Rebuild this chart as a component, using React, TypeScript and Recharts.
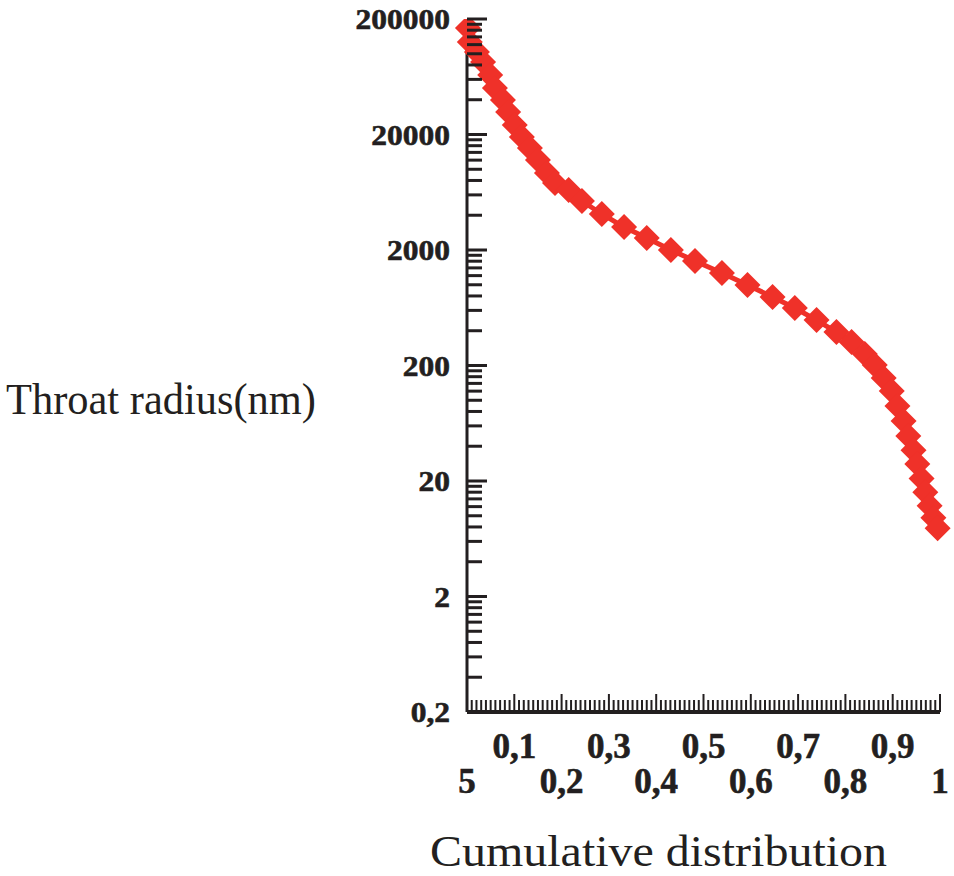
import React from "react"
import { LineChart, Line, XAxis, YAxis } from "recharts"

// cumulative distribution (x) vs throat radius in nm (y, log)
const cumulative = [
  0.002, 0.006, 0.021, 0.034, 0.049, 0.059, 0.076, 0.087, 0.101, 0.116,
  0.133, 0.15, 0.169, 0.186, 0.215, 0.243, 0.285, 0.332, 0.38, 0.431,
  0.482, 0.539, 0.593, 0.646, 0.693, 0.739, 0.781, 0.813, 0.841, 0.862,
  0.881, 0.898, 0.91, 0.923, 0.933, 0.944, 0.952, 0.961, 0.969, 0.978,
  0.986, 0.995,
]
const radius = [
  167000, 126500, 103600, 84900, 65500, 50600, 39800, 31300, 24200, 19000,
  15300, 12000, 9290, 7600, 6610, 5310, 4100, 3160, 2540, 2000,
  1607, 1264, 995, 784, 629, 495, 390, 319, 252, 202,
  156, 120, 89, 66, 49, 37, 28, 21, 16, 12.2,
  9.6, 7.8,
]

const yMajorTicks = [0.2, 2, 20, 200, 2000, 20000, 200000]
const yMajorLabels = ["0,2", "2", "20", "200", "2000", "20000", "200000"]
const xMajorTicks = [0, 0.1, 0.2, 0.3, 0.4, 0.5, 0.6, 0.7, 0.8, 0.9, 1]
const xMajorLabels = ["5", "0,1", "0,2", "0,3", "0,4", "0,5", "0,6", "0,7", "0,8", "0,9", "1"]

const data = cumulative.map((x, i) => ({ x, r: radius[i] }))

// minor ticks: 1..9 per decade on y, every 0.01 on x
const yTicks: number[] = []
yMajorTicks.slice(0, -1).forEach((d) => {
  for (let k = 1; k < 10; k++) yTicks.push(d * k)
})
yTicks.push(200000)
const xTicks = Array.from({ length: 101 }, (_, i) => i / 100)

const INK = "#231f20"
const RED = "#ef3129"
const SERIF = "'Liberation Serif', 'Times New Roman', serif"

const YTick = (props: any) => {
  const { x, y, payload } = props
  const axisX = x + 17
  const idx = yMajorTicks.findIndex((m) => Math.abs(m - payload.value) / m < 1e-6)
  const major = idx >= 0
  return (
    <g>
      <line x1={axisX} x2={axisX + (major ? 20 : 15)} y1={y} y2={y} stroke={INK} strokeWidth={3} />
      {major && (
        <text
          transform={`translate(${x},${y + 10}) scale(1.05,1)`}
          textAnchor="end"
          fontFamily={SERIF}
          fontWeight="bold"
          fontSize={30}
          fill={INK}
          stroke={INK}
          strokeWidth={0.6}
        >
          {yMajorLabels[idx]}
        </text>
      )}
    </g>
  )
}

const XTick = (props: any) => {
  const { x, y, payload } = props
  const n = Math.round(payload.value * 100)
  const major = n % 10 === 0
  const idx = n / 10
  return (
    <g>
      <line x1={x} x2={x} y1={y} y2={y - (major ? 18 : 12)} stroke={INK} strokeWidth={2} />
      {major && (
        <text
          x={x}
          y={idx % 2 === 1 ? y + 46 : y + 81}
          textAnchor="middle"
          fontFamily={SERIF}
          fontWeight="bold"
          fontSize={35}
          fill={INK}
          stroke={INK}
          strokeWidth={0.6}
        >
          {xMajorLabels[idx]}
        </text>
      )}
    </g>
  )
}

const Diamond = (props: any) => {
  const { cx, cy, index } = props
  if (cx == null || cy == null) return <g key={index} />
  const s = 13
  return (
    <polygon
      key={index}
      points={`${cx},${cy - s} ${cx + s},${cy} ${cx},${cy + s} ${cx - s},${cy}`}
      fill={RED}
    />
  )
}

export default function App() {
  return (
    <div style={{ position: "absolute", left: 0, top: 0, width: 954, height: 876, background: "#fff" }}>
      <LineChart width={954} height={876} data={data} margin={{ top: 19, right: 14, left: 0, bottom: 0 }}>
        <XAxis
          dataKey="x"
          type="number"
          domain={[0, 1]}
          ticks={xTicks}
          interval={0}
          height={164}
          tickSize={0}
          tickMargin={0}
          tickLine={false}
          tick={<XTick />}
          axisLine={{ stroke: INK, strokeWidth: 4 }}
        />
        <YAxis
          type="number"
          scale="log"
          domain={[0.2, 200000]}
          allowDataOverflow
          ticks={yTicks}
          interval={0}
          width={467}
          tickSize={0}
          tickMargin={17}
          tickLine={false}
          tick={<YTick />}
          axisLine={{ stroke: INK, strokeWidth: 3 }}
        />
        <Line
          type="linear"
          dataKey="r"
          stroke={RED}
          strokeWidth={5}
          dot={Diamond}
          activeDot={false}
          isAnimationActive={false}
        />
      </LineChart>
      <svg width={954} height={876} style={{ position: "absolute", left: 0, top: 0, pointerEvents: "none" }}>
        <text x={6} y={414} fontFamily={SERIF} fontSize={44} fill={INK} textLength={310} lengthAdjust="spacingAndGlyphs">
          Throat radius(nm)
        </text>
        <text x={430} y={866} fontFamily={SERIF} fontSize={44} fill={INK} textLength={457} lengthAdjust="spacingAndGlyphs">
          Cumulative distribution
        </text>
      </svg>
    </div>
  )
}
